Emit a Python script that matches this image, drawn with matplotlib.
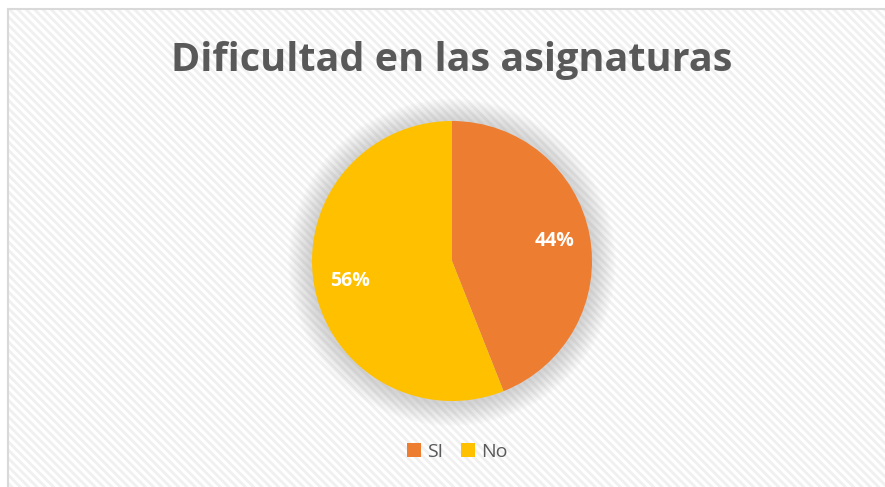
import matplotlib
matplotlib.use("Agg")
import matplotlib.pyplot as plt
from matplotlib.patches import Rectangle, Circle

labels = ["SI", "No"]
values = [44, 56]
colors = ["#ED7D31", "#FFC000"]
title = "Dificultad en las asignaturas"

plt.rcParams['font.family'] = ['Open Sans', 'DejaVu Sans']
plt.rcParams['hatch.linewidth'] = 2.0

W, H = 885, 487
fig = plt.figure(figsize=(W / 100, H / 100), dpi=100)

# hatched background + border
bg = Rectangle((8 / W, 0), 1, 1 - 9 / H, transform=fig.transFigure,
               facecolor="white", edgecolor="#F0F0F0", hatch="\\\\\\\\", lw=0, zorder=-2)
fig.patches.append(bg)
border = Rectangle((8 / W, -0.01), 1, 1 - 9 / H + 0.01, transform=fig.transFigure,
                   facecolor="none", edgecolor="#D9D9D9", lw=1.5, zorder=-1)
fig.patches.append(border)

cx, cy, r = 452, 261, 140
ax = fig.add_axes([(cx - r) / W, (H - cy - r) / H, 2 * r / W, 2 * r / H])
ax.set_zorder(2)
ax.set_aspect("equal")
ax.axis("off")

# soft shadow around the pie
for k in range(14):
    ax.add_patch(Circle((0, -0.01), 1.0 + 0.012 * (k + 1), color="#999999",
                        alpha=0.03, lw=0, zorder=0, clip_on=False))

wedges, texts, autotexts = ax.pie(values, colors=colors, startangle=90, counterclock=False,
                                  autopct="%1.0f%%", pctdistance=0.745,
                                  wedgeprops=dict(linewidth=0),
                                  textprops=dict(color="white", fontsize=14, fontweight="bold"))
for w in wedges:
    w.set_zorder(2)
for t in autotexts:
    t.set_zorder(3)
ax.set_xlim(-1, 1)
ax.set_ylim(-1, 1)

fig.text(0.51, 0.875, title, ha="center", va="center", fontsize=28.5,
         fontweight="bold", color="#595959")

fig.legend(wedges, labels, loc="center", bbox_to_anchor=(0.517, 0.072), ncol=2,
           frameon=False, fontsize=14, labelcolor="#595959", handlelength=0.7,
           handleheight=0.7, handletextpad=0.35, columnspacing=0.9)

fig.savefig("out.png", dpi=100)
